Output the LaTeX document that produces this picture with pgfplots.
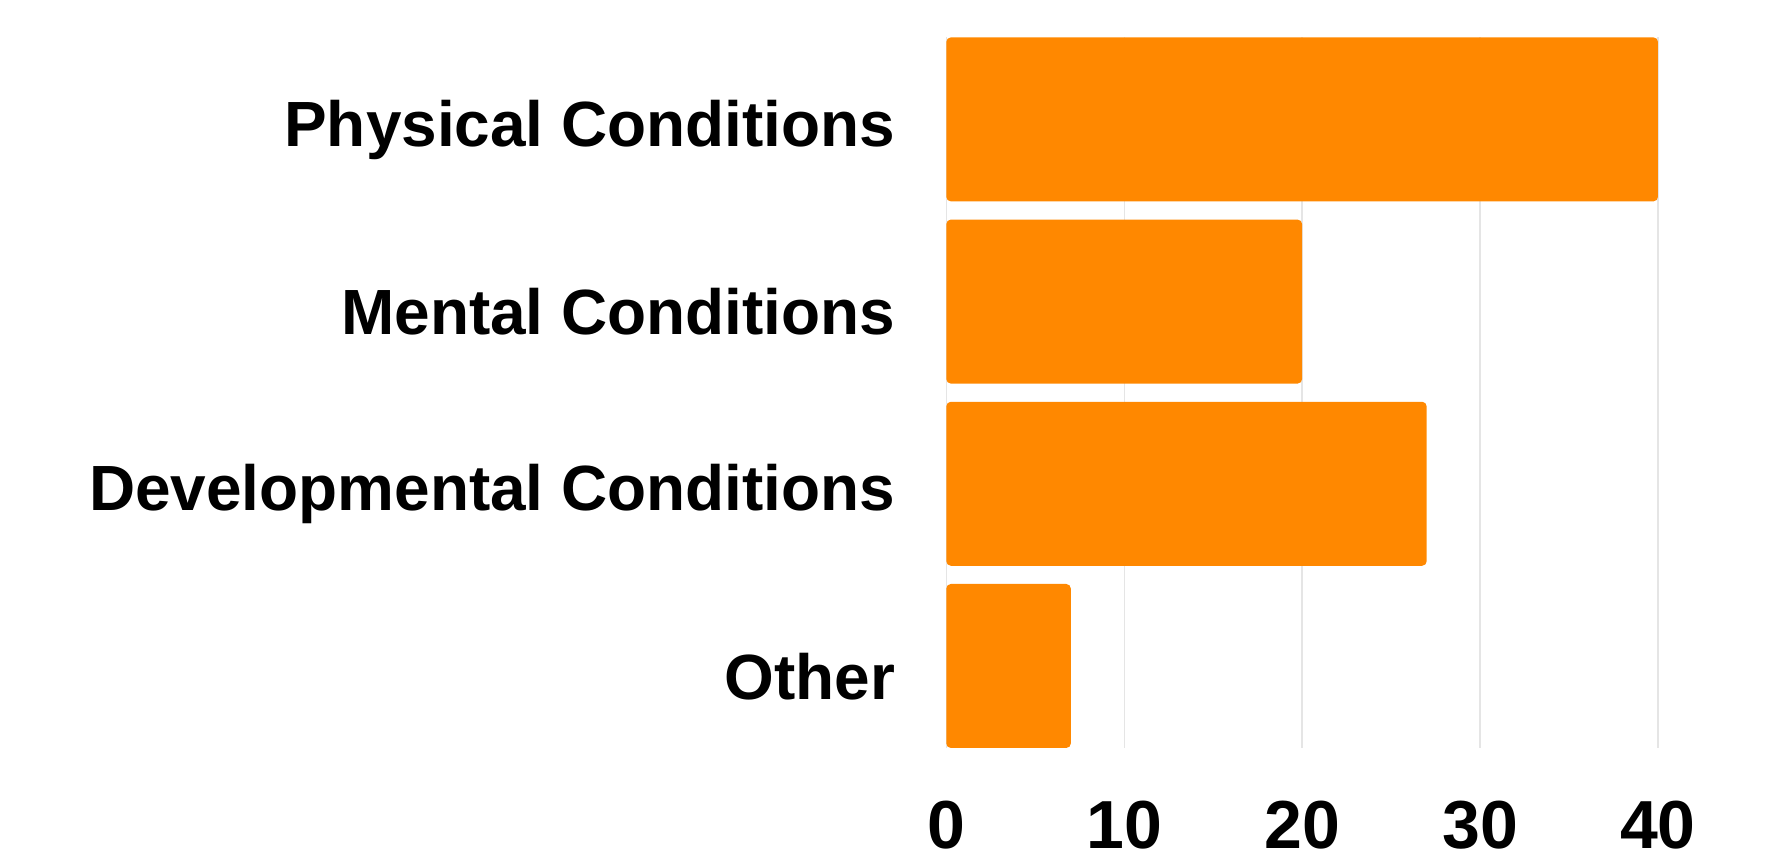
\documentclass[border=0pt]{standalone}
\usepackage{fontspec}
\setmainfont{Liberation Sans}
\usepackage{pgfplots}
\pgfplotsset{compat=1.18}
\definecolor{barorange}{RGB}{255,136,0}
\begin{document}
\begin{tikzpicture}
\begin{axis}[
  scale only axis, width=314pt, height=313.5pt,
  xbar, bar width=0.9, bar shift=0pt,
  xmin=0, xmax=40, ymin=-0.45, ymax=3.45,
  axis line style={draw=none},
  xtick={0,10,20,30,40}, ytick={0,1,2,3},
  yticklabels={Other, Developmental Conditions, Mental Conditions, Physical Conditions},
  major tick length=0pt,
  xmajorgrids, grid style={draw=black!10, line width=0.6pt},
  yticklabel style={font=\bfseries\fontsize{28.2}{30}\selectfont, xshift=-19pt, yshift=-4.5pt},
  xticklabel style={font=\bfseries\fontsize{30}{32}\selectfont, yshift=-20pt},
  /pgf/number format/assume math mode=true,
]
\addplot[fill=barorange, draw=none, rounded corners=2pt] coordinates {(40,3) (20,2) (27,1) (7,0)};
\end{axis}
\pgfresetboundingbox
\path[use as bounding box] (-417.5pt,-49.5pt) rectangle (366.5pt,330pt);
\end{tikzpicture}
\end{document}
